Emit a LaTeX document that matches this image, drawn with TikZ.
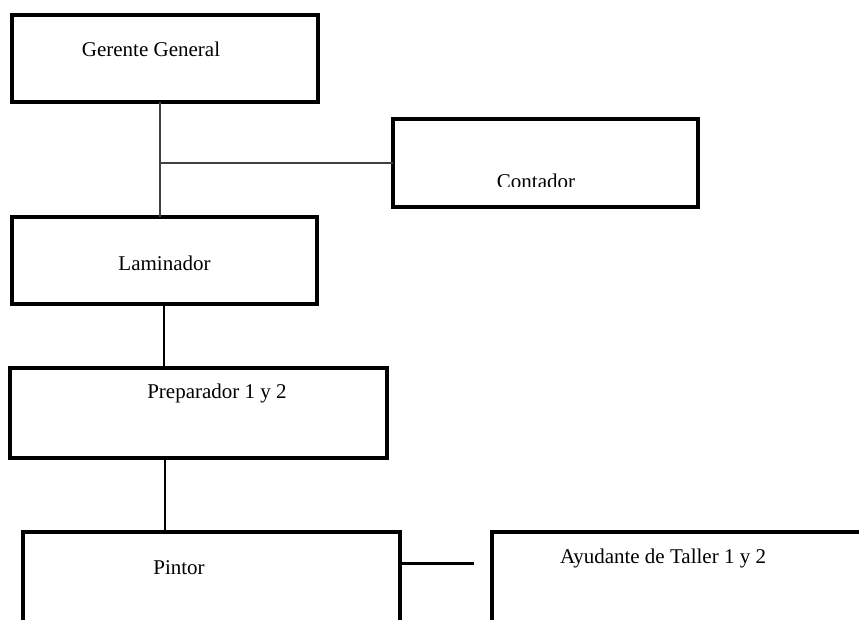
\documentclass[tikz,border=0pt]{standalone}
\usepackage{fontspec}
\setmainfont{Liberation Serif}
\begin{document}
\begin{tikzpicture}[x=1pt, y=-1pt,
  box/.style={draw, line width=4pt, rectangle, inner sep=0pt, outer sep=0pt},
  lbl/.style={anchor=base, inner sep=0pt, font=\fontsize{21}{25}\selectfont},
  thinlink/.style={draw=black!75, line width=1.6pt},
  link/.style={draw, line width=1.8pt},
  widelink/.style={draw, line width=3pt}]
\useasboundingbox (0,0) rectangle (859,619);
\clip (0,0) rectangle (859,619);

% boxes of the chart
\node[box, minimum width=306pt, minimum height=87pt] (gg)   at (165,58.5)  {};
\node[box, minimum width=305pt, minimum height=88pt] (cont) at (545.5,163) {};
\node[box, minimum width=305pt, minimum height=87pt] (lam)  at (164.5,260.5) {};
\node[box, minimum width=377pt, minimum height=90pt] (prep) at (198.5,413) {};
\node[box, minimum width=377pt, minimum height=136pt] (pint) at (211.5,600) {};
\node[box, minimum width=416pt, minimum height=136pt] (ayud) at (700,600) {};

% titles
\node[lbl] (tgg)   at (151,56)  {Gerente General};
\node[lbl] (tlam)  at (164.5,270) {Laminador};
\node[lbl] (tprep) at (217,398) {Preparador 1 y 2};
\node[lbl] (tpint) at (179,574) {Pintor};
\node[lbl] (tayud) at (663,563) {Ayudante de Taller 1 y 2};
\begin{scope}
  \clip (395,121) rectangle (696,186);
  \node[lbl] (tcont) at (536,188) {Contador};
\end{scope}

% reference columns for the vertical links
\coordinate (c1) at (160,0);
\coordinate (c2) at (164,0);
\coordinate (c3) at (165,0);
\coordinate (j1) at (160,163);
\coordinate (e1) at (474,563);

% connectors
\draw[thinlink] (gg.south -| c1) -- (lam.north -| c1);
\draw[thinlink] (j1) -- (cont.west |- j1);
\draw[link] (lam.south -| c2) -- (prep.north -| c2);
\draw[link] (prep.south -| c3) -- (pint.north -| c3);
\draw[widelink] (pint.east |- e1) -- (e1);
\end{tikzpicture}
\end{document}
